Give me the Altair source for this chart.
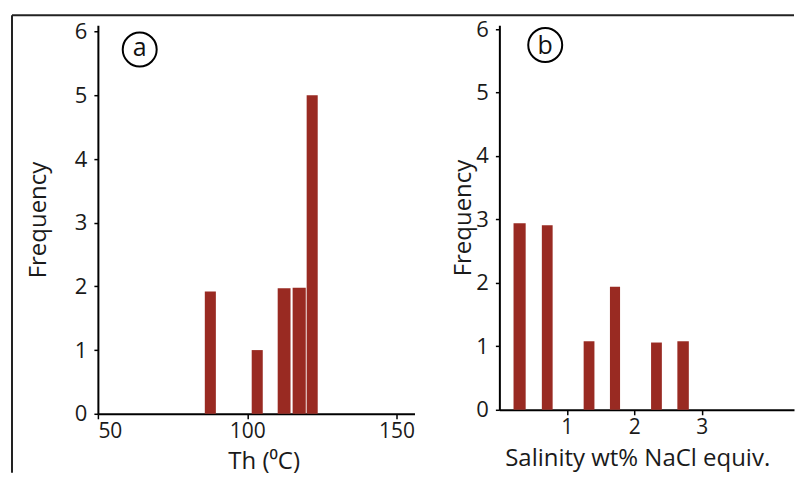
import altair as alt
import pandas as pd

# Panel a: homogenisation temperature histogram
th_start = [85.8, 101.5, 110.2, 115.2, 119.9]
th_end = [89.5, 105.2, 114.5, 119.6, 123.6]
th_freq = [1.92, 1.0, 1.97, 1.98, 5.0]

# Panel b: salinity histogram
sal_start = [0.21, 0.63, 1.25, 1.64, 2.25, 2.64]
sal_end = [0.39, 0.79, 1.41, 1.79, 2.41, 2.81]
sal_freq = [2.94, 2.91, 1.08, 1.94, 1.06, 1.08]

y_ticks = [0, 1, 2, 3, 4, 5, 6]
th_ticks = [50, 100, 150]
sal_ticks = [1, 2, 3]

panel_labels = ["a", "b"]
label_pos_x = [64.0, 0.68]
label_pos_y = [5.72, 5.75]

BAR = "#992A22"
FONT = "Open Sans"

df_a = pd.DataFrame({"x": th_start, "x2": th_end, "f": th_freq, "z": 0.0})
df_b = pd.DataFrame({"x": sal_start, "x2": sal_end, "f": sal_freq, "z": 0.0})
lab_a = pd.DataFrame({"x": [label_pos_x[0]], "y": [label_pos_y[0]], "t": [panel_labels[0]]})
lab_b = pd.DataFrame({"x": [label_pos_x[1]], "y": [label_pos_y[1]], "t": [panel_labels[1]]})

def yaxis(title_pad):
    return alt.Axis(values=y_ticks, title="Frequency", titlePadding=title_pad,
                    tickSize=4, labelPadding=7, format="d", labelFontSize=22)

# ---------- panel a ----------
xa = alt.X("x:Q", scale=alt.Scale(domain=[50, 156], nice=False, zero=False),
           axis=alt.Axis(values=th_ticks, title="Th (⁰C)", tickSize=5, labelPadding=2,
                         format="d", titleX=166, titleY=55, titleBaseline="alphabetic",
                         titleAnchor="start", titleAlign="center"))
ya = alt.Y("f:Q", scale=alt.Scale(domain=[0, 6.1], nice=False), axis=yaxis(24))

bars_a = alt.Chart(df_a).mark_rect(color=BAR).encode(x=xa, x2="x2:Q", y=ya, y2="z:Q")
circ_a = alt.Chart(lab_a).mark_point(shape="circle", size=1156, filled=False,
                                     stroke="black", strokeWidth=2, opacity=1).encode(
    x=alt.X("x:Q"), y=alt.Y("y:Q"))
txt_a = alt.Chart(lab_a).mark_text(font=FONT, fontSize=25, baseline="middle",
                                   align="center", color="#111", dy=-1).encode(
    x="x:Q", y="y:Q", text="t:N")
frame_left = alt.Chart(lab_a).mark_rule(color="#222", strokeWidth=2).encode(
    x=alt.value(-86), y=alt.value(-10), y2=alt.value(448))
frame_top = alt.Chart(lab_a).mark_rule(color="#222", strokeWidth=2).encode(
    x=alt.value(-86), x2=alt.value(697), y=alt.value(-10))

panel_a = alt.layer(frame_left, frame_top, bars_a, circ_a, txt_a).properties(width=317, height=389)

# ---------- panel b ----------
xb = alt.X("x:Q", scale=alt.Scale(domain=[0, 4.37], nice=False),
           axis=alt.Axis(values=sal_ticks, title="Salinity wt% NaCl equiv.", tickSize=5,
                         labelPadding=2, format="d", titleX=138, titleY=56,
                         titleBaseline="alphabetic", titleAnchor="start", titleAlign="center"))
yb = alt.Y("f:Q", scale=alt.Scale(domain=[0, 6.06], nice=False), axis=yaxis(0))

bars_b = alt.Chart(df_b).mark_rect(color=BAR).encode(x=xb, x2="x2:Q", y=yb, y2="z:Q")
circ_b = alt.Chart(lab_b).mark_point(shape="circle", size=1156, filled=False,
                                     stroke="black", strokeWidth=2, opacity=1).encode(
    x=alt.X("x:Q"), y=alt.Y("y:Q"))
txt_b = alt.Chart(lab_b).mark_text(font=FONT, fontSize=25, baseline="middle",
                                   align="center", color="#111", dy=1).encode(
    x="x:Q", y="y:Q", text="t:N")

panel_b = alt.layer(bars_b, circ_b, txt_b).properties(width=295, height=385)

chart = alt.hconcat(panel_a, panel_b, spacing=85, bounds="flush").properties(
    padding={"left": 3, "top": 6, "right": 0, "bottom": 4},
    background="white",
).configure_view(stroke=None).configure_axis(
    grid=False, domainColor="black", domainWidth=2, tickColor="black", tickWidth=1.5,
    labelFont=FONT, labelFontSize=21, labelColor="#1a1a1a",
    titleFont=FONT, titleFontSize=24, titleFontWeight="normal", titleColor="#1a1a1a",
)

chart.save("out.html", embed_options={"renderer": "svg", "actions": False})
